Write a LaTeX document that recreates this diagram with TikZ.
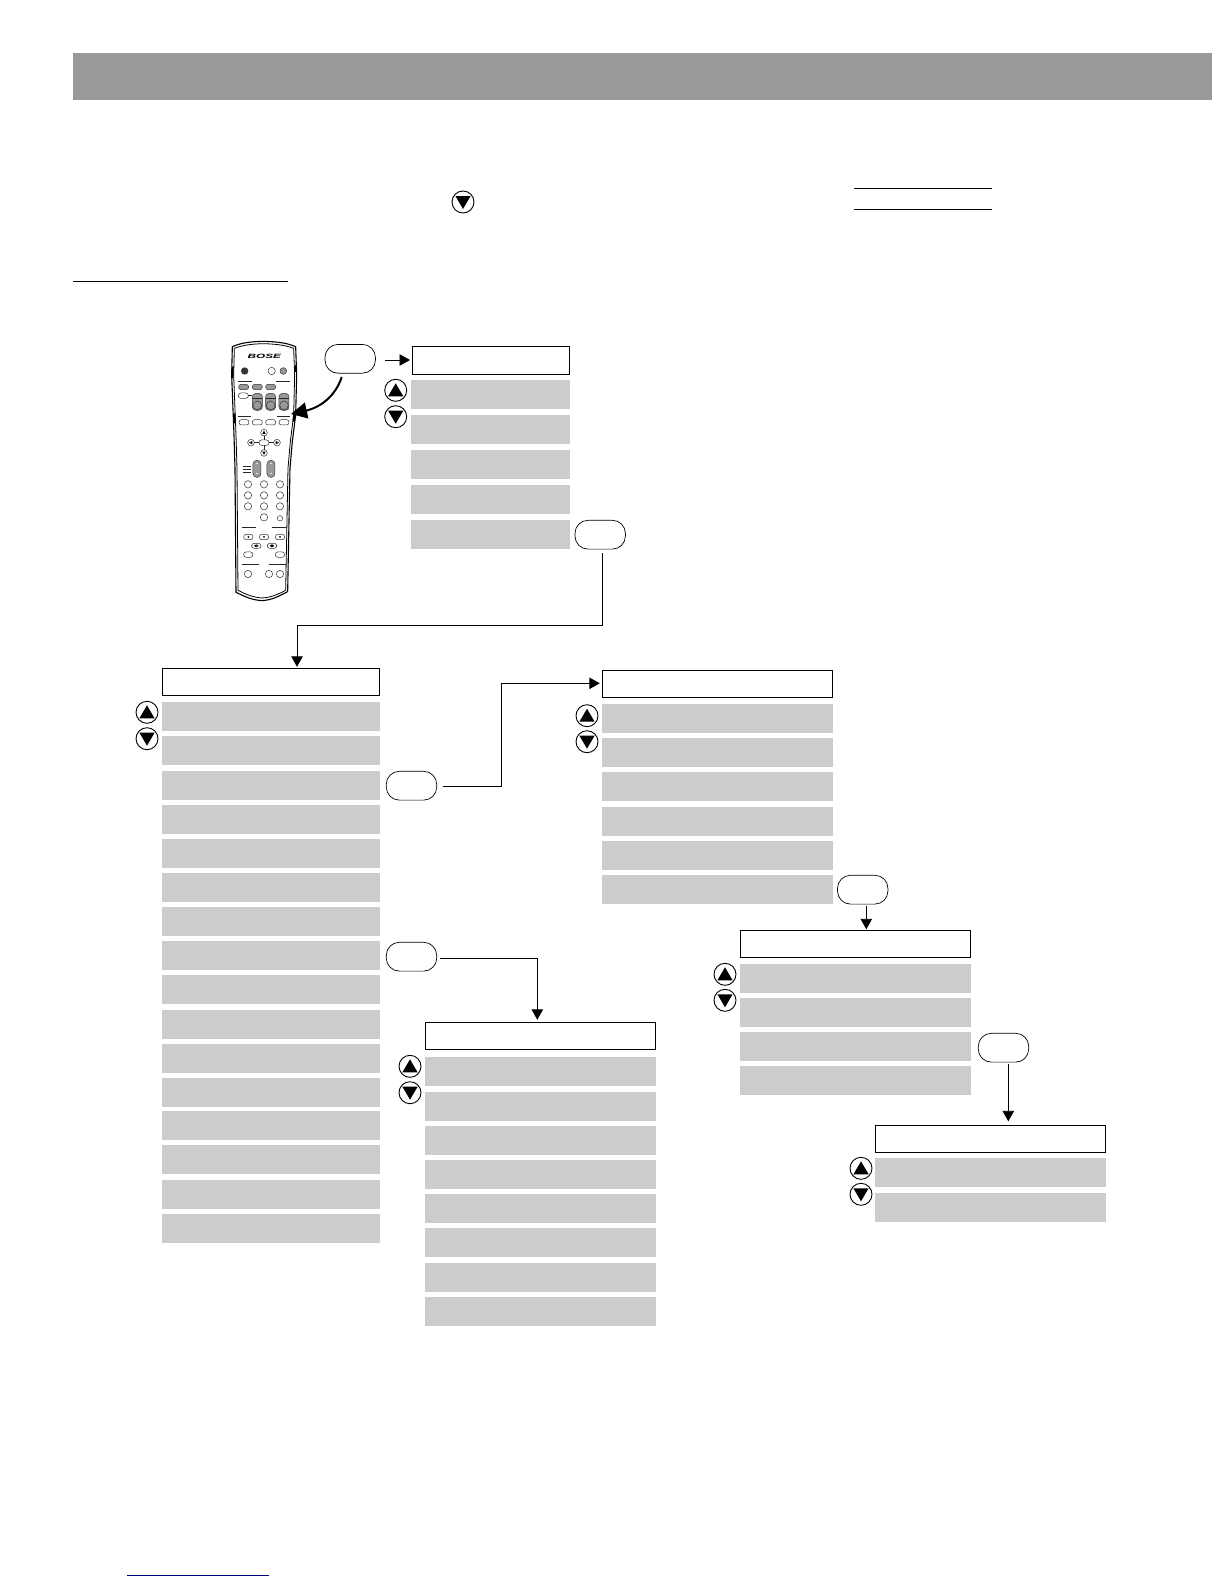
\documentclass[tikz,border=0pt]{standalone}
\usepackage{fontspec}
\setsansfont{Liberation Sans}
\usetikzlibrary{arrows.meta,calc}
\definecolor{rowgray}{HTML}{CCCCCC}
\definecolor{bandgray}{HTML}{999999}
\definecolor{footblue}{HTML}{000080}
\tikzset{
  menuhead/.style={draw,line width=0.8pt,fill=white,anchor=north west,inner sep=0pt,outer sep=0pt,minimum height=27.4pt},
  menurow/.style={fill=rowgray,anchor=north west,inner sep=0pt,outer sep=0pt,minimum height=29pt},
  softkey/.style={draw,line width=0.7pt,fill=white,rounded corners=13pt,anchor=north west,inner sep=0pt,outer sep=0pt,minimum width=50.4pt,minimum height=28.8pt},
  link/.style={line width=0.9pt,-{Triangle[length=10.5pt,width=11.5pt]}},
  remline/.style={line width=0.6pt,black!85},
  remkey/.style={line width=0.5pt,black!80,rounded corners=2.5pt},
  uparrowkey/.pic={
    \draw[line width=0.9pt,fill=white] (0,0) circle (11);
    \fill (-7.6,6) -- (7.6,6) -- (0,-7) -- cycle;
  },
  downarrowkey/.pic={
    \draw[line width=0.9pt,fill=white] (0,0) circle (11);
    \fill (-7.6,-6) -- (7.6,-6) -- (0,7) -- cycle;
  }
}
\begin{document}
\begin{tikzpicture}[x=1pt,y=-1pt]
\useasboundingbox (0,0) rectangle (1224,1584);
\fill[white] (0,0) rectangle (1224,1584);

\fill[bandgray] (72.8,53.3) rectangle (1212,100);
\draw[line width=0.9pt] (854,188.3) -- (992,188.3);
\draw[line width=0.9pt] (854,209.3) -- (992,209.3);
\draw[line width=0.9pt] (72.8,281.3) -- (288,281.3);
\draw[line width=1pt,footblue] (127,1575.3) -- (269,1575.3);
\pic at (463,202) {downarrowkey};

% remote
\begin{scope}[shift={(200,325)},x=0.3333pt,y=-0.3333pt]
\draw[line width=1.1pt] (97,65) .. controls (125,53) and (150,50) .. (190,49) .. controls (230,50) and (258,53) .. (287,65)
  -- (290,150) -- (287,270) -- (277,350) -- (270,430) -- (263,800) .. controls (235,815) and (215,825) .. (186,827) .. controls (155,825) and (135,815) .. (108,802)
  -- (105,430) -- (102,330) -- (95,150) -- cycle;
\draw[line width=0.8pt] (103,70) .. controls (130,60) and (155,57) .. (190,56) .. controls (225,57) and (255,60) .. (281,70)
  -- (284,150) -- (281,270) -- (271,350) -- (264,430) -- (257,796) .. controls (235,808) and (215,817) .. (186,819) .. controls (158,817) and (138,808) .. (114,796)
  -- (111,430) -- (108,330) -- (101,150) -- cycle;
\draw[line width=2.2pt] (98,125) -- (97,160);
\draw[line width=2.2pt] (103,265) -- (104,295);
\draw[line width=2.2pt] (287,120) -- (287,142);
\draw[line width=2.2pt] (283,262) -- (281,290);
\node[font=\sffamily\bfseries\itshape\fontsize{6.2}{6.2}\selectfont,xscale=1.9,inner sep=0pt] (logo) at (193,94) {BOSE};
\fill[black!80] (134,138) circle (11);
\draw[remkey] (215,138) circle (11);
\draw[remkey,fill=black!40] (250,138) circle (10);
\foreach \xa/\ya/\xb in {113/169/155,228/169/270,113/273/153,231/273/270,128/423/153,128/433/153,128/443/153,126/607/168,216/607/258,126/718/176,207/718/258}
  \draw[remline] (\xa,\ya) -- (\xb,\ya);
\foreach \xa in {131,172,212}
  \draw[remkey,fill=black!40] (\xa-15,178) rectangle (\xa+15,194);
\draw[remkey] (115,204) rectangle (145,220);
\draw[remline] (145,212) -- (157,212);
\foreach \xa in {172,212,252} {
  \draw[remkey,fill=black!40,rounded corners=3.5pt] (\xa-15,205) rectangle (\xa+15,256);
  \draw[remline] (\xa-15,221) -- (\xa+15,221);
  \draw[remkey] (\xa,241) circle (13);
}
\foreach \xa in {132,172,212,252}
  \draw[remkey] (\xa-15,284) rectangle (\xa+15,300);
\draw[remkey] (192,323) circle (10);
\draw[remkey] (153,353) circle (10);
\draw[remkey] (231,353) circle (10);
\draw[remkey] (192,384) circle (10);
\fill (192,317) -- (197,327) -- (187,327) -- cycle;
\fill (192,390) -- (197,380) -- (187,380) -- cycle;
\fill (147,353) -- (157,348) -- (157,358) -- cycle;
\fill (237,353) -- (227,348) -- (227,358) -- cycle;
\draw[remkey] (177,345) rectangle (207,361);
\foreach \xa/\ya/\xb/\yb in {163/353/177/353,207/353/221/353,192/333/192/345,192/361/192/374}
  \draw[remline] (\xa,\ya) -- (\xb,\yb);
\foreach \xa in {171,213} {
  \draw[remkey,fill=black!40,rounded corners=3.8pt] (\xa-12,406) rectangle (\xa+12,457);
  \fill[white] (\xa,415) circle (2.4);
  \fill[white] (\xa,445) circle (2.4);
}
\foreach \ya in {478,511,544}
  \foreach \xa in {144,192,240}
    \draw[remkey] (\xa,\ya) circle (11);
\draw[remkey] (192,577) circle (11);
\draw[remkey] (240,580) circle (8);
\foreach \xa in {145,192,240} {
  \draw[remkey] (\xa-14,628) rectangle (\xa+14,644);
  \fill (\xa,636) circle (3);
}
\foreach \xa in {169,216} {
  \draw[remkey] (\xa-14,655) rectangle (\xa+14,670);
  \fill (\xa-7,662.5) -- (\xa,658) -- (\xa,667) -- cycle;
  \fill (\xa+7,662.5) -- (\xa,658) -- (\xa,667) -- cycle;
}
\foreach \xa in {145,240}
  \draw[remkey] (\xa-14,681) rectangle (\xa+14,697);
\foreach \xa in {144,207,240}
  \draw[remkey] (\xa,747) circle (11);
\end{scope}

% first menu
\node[softkey] (menukey) at (325,344.4) {};
\node[menuhead,minimum width=156.5pt] (mainhead) at (412.5,346.5) {};
\foreach \t [count=\n] in {380,415,450,485,520}
  \node[menurow,minimum width=159pt] (mainrow\n) at (411,\t) {};
\pic at (395.7,390.3) {uparrowkey};
\pic at (395.7,416.7) {downarrowkey};
\node[softkey] (mainok) at (575,520.3) {};

% long menu
\node[menuhead,minimum width=217.4pt] (sethead) at (162.3,668.3) {};
\foreach \t [count=\n] in {702,736,771,805,839,873,907,941,975,1010,1044,1078,1111,1145,1180,1214}
  \node[menurow,minimum width=218pt] (setrow\n) at (162,\t) {};
\pic at (147,712.3) {uparrowkey};
\pic at (147,738.7) {downarrowkey};
\node[softkey] (setokA) at (386.3,771.3) {};
\node[softkey] (setokB) at (386.3,942.3) {};

% lower middle menu
\node[menuhead,minimum width=229.6pt] (inhead) at (425.5,1022.3) {};
\foreach \t [count=\n] in {1057,1092,1126,1160,1194,1228,1263,1297}
  \node[menurow,minimum width=230.6pt] (inrow\n) at (425.2,\t) {};
\pic at (410,1066.3) {uparrowkey};
\pic at (410,1092.7) {downarrowkey};

% upper right menu
\node[menuhead,minimum width=230.4pt] (srchead) at (602.3,670.3) {};
\foreach \t [count=\n] in {704,738,772,807,841,875}
  \node[menurow,minimum width=231pt] (srcrow\n) at (602,\t) {};
\pic at (587,715.7) {uparrowkey};
\pic at (587,741.7) {downarrowkey};
\node[softkey] (srcok) at (837.5,875.3) {};

\node[menuhead,minimum width=230.4pt] (subhead) at (740.3,930.3) {};
\foreach \t [count=\n] in {964,998,1032,1066}
  \node[menurow,minimum width=231pt] (subrow\n) at (740,\t) {};
\pic at (725,974.3) {uparrowkey};
\pic at (725,1000.3) {downarrowkey};
\node[softkey] (subok) at (978.3,1033.3) {};

\node[menuhead,minimum width=230.4pt] (lasthead) at (875.3,1125.3) {};
\foreach \t [count=\n] in {1158,1193}
  \node[menurow,minimum width=231pt] (lastrow\n) at (875,\t) {};
\pic at (861,1168.3) {uparrowkey};
\pic at (861,1194.3) {downarrowkey};

% connectors
\coordinate (menufrom) at (385,360);
\draw[link,shorten >=2.5pt] (menufrom) -- (mainhead.west |- menufrom);
\coordinate (curvefrom) at (341.7,377);
\coordinate (curveto) at (291,414);
\draw[line width=2pt,-{Triangle[length=16pt,width=16pt]}] (curvefrom) .. controls (335,398) and (318,408) .. (curveto);
\coordinate (okfrom) at (602.7,553);
\coordinate (okbend) at (297,625.3);
\draw[link,shorten >=1.5pt] (okfrom) |- (okbend) -- (okbend |- sethead.north);
\coordinate (afrom) at (443.3,786.3);
\coordinate (abend) at (501.3,683.3);
\draw[link,shorten >=2.5pt] (afrom) -| (abend) -- (srchead.west |- abend);
\coordinate (bfrom) at (440,958.3);
\coordinate (bbend) at (537.3,958.3);
\draw[link,shorten >=2.5pt] (bfrom) -- (bbend) -- (bbend |- inhead.north);
\coordinate (cfrom) at (866.3,906.3);
\draw[link,shorten >=1pt] (cfrom) -- (cfrom |- subhead.north);
\coordinate (dfrom) at (1008.3,1064);
\draw[link,shorten >=4pt] (dfrom) -- (dfrom |- lasthead.north);
\end{tikzpicture}
\end{document}
